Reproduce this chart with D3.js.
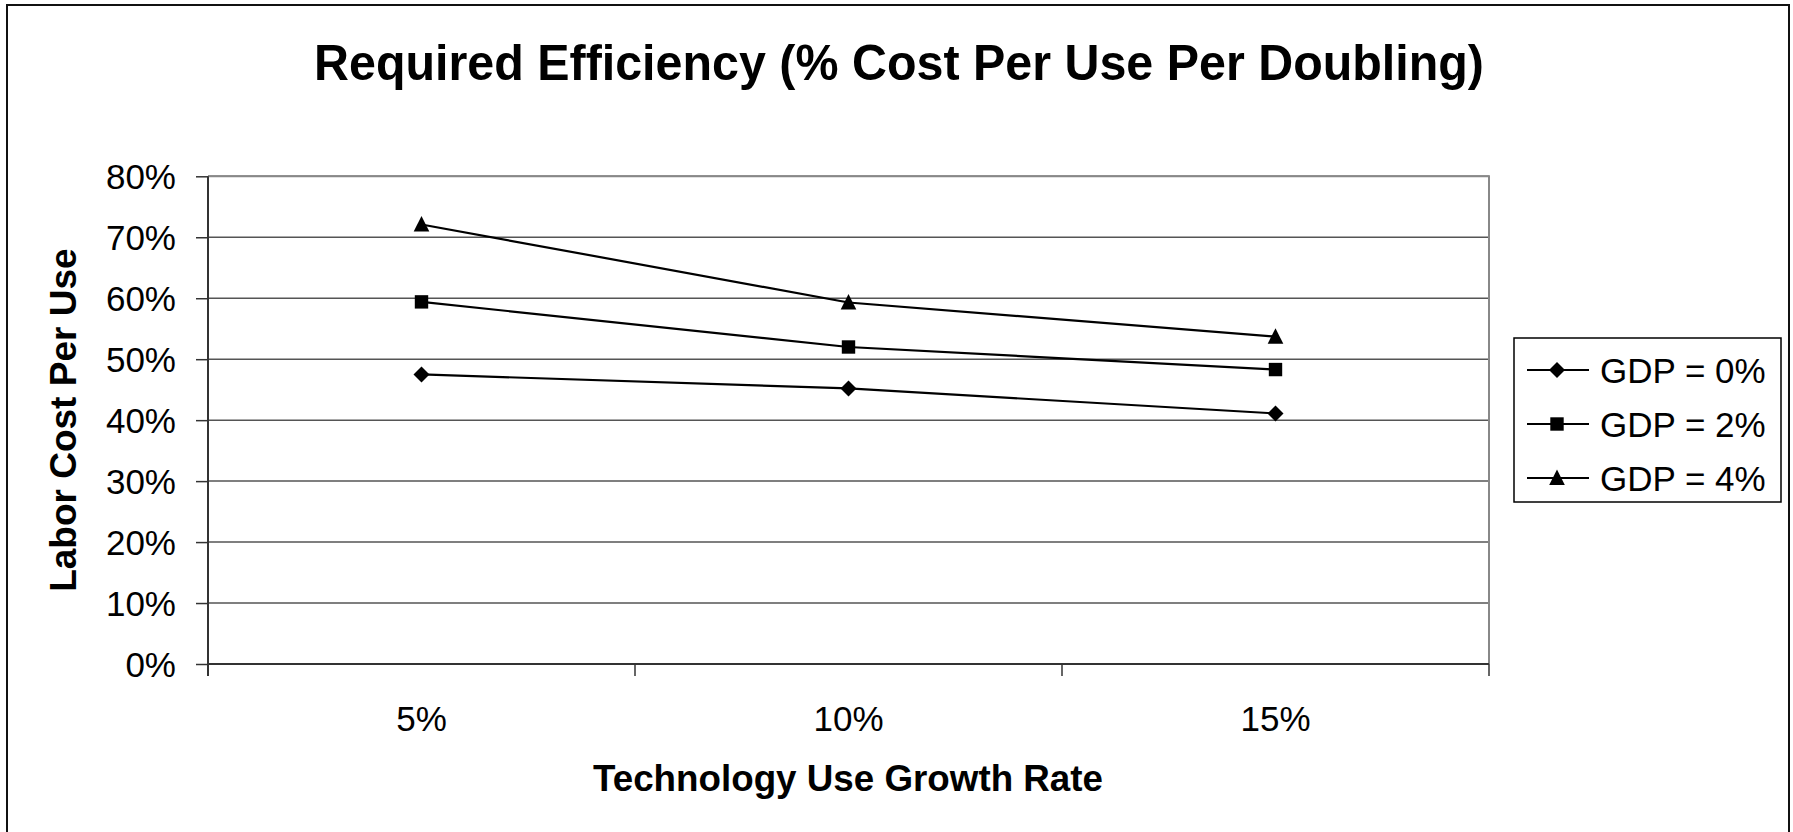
<!DOCTYPE html>
<html>
<head>
<meta charset="utf-8">
<script src="https://cdn.jsdelivr.net/npm/d3@7"></script>
<style>
  html, body { margin: 0; padding: 0; background: #fff; }
  svg { display: block; font-family: "Liberation Sans", Arial, sans-serif; }
</style>
</head>
<body>
<svg id="chart" width="1793" height="832"></svg>
<script>
// Growth-rate categories on the x axis
const categories = ["5%", "10%", "15%"];
// Series: labor cost per use required, one series per GDP growth assumption
const seriesNames = ["GDP = 0%", "GDP = 2%", "GDP = 4%"];
const gdp0 = [0.475, 0.452, 0.411];
const gdp2 = [0.594, 0.520, 0.483];
const gdp4 = [0.721, 0.593, 0.537];
const seriesMarkers = ["diamond", "square", "triangle"];
const yTicks = [0, 0.1, 0.2, 0.3, 0.4, 0.5, 0.6, 0.7, 0.8];

const titleText = "Required Efficiency (% Cost Per Use Per Doubling)";
const xTitle = "Technology Use Growth Rate";
const yTitle = "Labor Cost Per Use";

const series = [gdp0, gdp2, gdp4].map((vals, i) => ({
  name: seriesNames[i], marker: seriesMarkers[i], values: vals
}));

const svg = d3.select("#chart");
const plot = { left: 208, right: 1489, top: 176.3, bottom: 664 };

// Outer chart frame (bottom edge falls below the page)
svg.append("rect").attr("x", 7).attr("y", 5).attr("width", 1782).attr("height", 860)
  .attr("fill", "#fff").attr("stroke", "#111").attr("stroke-width", 2);

const x = d3.scaleBand().domain(categories).range([plot.left, plot.right]).padding(0);
const y = d3.scaleLinear().domain([0, 0.8]).range([plot.bottom, plot.top]);

// Horizontal gridlines
svg.append("g").selectAll("line").data(yTicks.slice(1)).join("line")
  .attr("x1", plot.left).attr("x2", plot.right)
  .attr("y1", d => y(d)).attr("y2", d => y(d))
  .attr("stroke", "#555").attr("stroke-width", 1.5);

// Plot frame: top and right edges
svg.append("path")
  .attr("d", `M${plot.left},${y(0.8)}H${plot.right}V${plot.bottom}`)
  .attr("fill", "none").attr("stroke", "#888").attr("stroke-width", 2);

// Y axis
const yAxis = svg.append("g").attr("transform", `translate(${plot.left},0)`)
  .call(d3.axisLeft(y).tickValues(yTicks).tickFormat(d3.format(".0%")).tickSize(12).tickPadding(20));
yAxis.select(".domain").attr("stroke", "#333").attr("stroke-width", 2)
  .attr("d", `M0,${y(0.8)}V${plot.bottom + 12}`);
yAxis.selectAll(".tick line").attr("stroke", "#333").attr("stroke-width", 1.5);
yAxis.selectAll(".tick text").attr("font-size", 35).attr("fill", "#000")
  .attr("font-family", "Liberation Sans, Arial, sans-serif").attr("dy", "0.36em");

// X axis: labels centred in each category, tick marks on category boundaries
const xAxis = svg.append("g").attr("transform", `translate(0,${plot.bottom})`)
  .call(d3.axisBottom(x).tickSize(0).tickPadding(42));
xAxis.select(".domain").attr("stroke", "#333").attr("stroke-width", 2)
  .attr("d", `M${plot.left},0H${plot.right}`);
xAxis.selectAll(".tick text").attr("font-size", 35).attr("fill", "#000")
  .attr("font-family", "Liberation Sans, Arial, sans-serif");
const edges = categories.map(c => x(c)).concat([x.range()[1]]);
xAxis.append("g").selectAll("line").data(edges).join("line")
  .attr("x1", d => d).attr("x2", d => d).attr("y1", 0).attr("y2", 12)
  .attr("stroke", "#333").attr("stroke-width", 1.5);

// Marker shapes
function markerPath(type, cx, cy) {
  if (type === "diamond") {
    const r = 8;
    return `M${cx},${cy - r}L${cx + r},${cy}L${cx},${cy + r}L${cx - r},${cy}Z`;
  }
  if (type === "square") {
    const h = 6.7;
    return `M${cx - h},${cy - h}H${cx + h}V${cy + h}H${cx - h}Z`;
  }
  return `M${cx},${cy - 8.5}L${cx + 7.8},${cy + 7}L${cx - 7.8},${cy + 7}Z`;
}

const cx = c => x(c) + x.bandwidth() / 2;
const line = d3.line().x((d, i) => cx(categories[i])).y(d => y(d));

const sg = svg.append("g").selectAll("g").data(series).join("g");
sg.append("path").attr("d", d => line(d.values))
  .attr("fill", "none").attr("stroke", "#000").attr("stroke-width", 2.2);
sg.each(function (s) {
  d3.select(this).selectAll("path.m").data(s.values).join("path").attr("class", "m")
    .attr("d", (v, i) => markerPath(s.marker, cx(categories[i]), y(v)))
    .attr("fill", "#000");
});

// Titles
svg.append("text").attr("x", 899).attr("y", 80).attr("text-anchor", "middle")
  .attr("font-size", 50).attr("font-weight", "bold")
  .attr("textLength", 1170).attr("lengthAdjust", "spacingAndGlyphs").text(titleText);
svg.append("text").attr("x", 848).attr("y", 791).attr("text-anchor", "middle")
  .attr("font-size", 37).attr("font-weight", "bold")
  .attr("textLength", 510).attr("lengthAdjust", "spacingAndGlyphs").text(xTitle);
svg.append("text").attr("transform", `translate(76,${(plot.top + plot.bottom) / 2}) rotate(-90)`)
  .attr("text-anchor", "middle").attr("font-size", 37).attr("font-weight", "bold").text(yTitle);

// Legend
const lg = svg.append("g");
lg.append("rect").attr("x", 1514).attr("y", 338).attr("width", 267).attr("height", 164)
  .attr("fill", "#fff").attr("stroke", "#000").attr("stroke-width", 1.5);
const rowY = [370, 424, 478];
const li = lg.selectAll("g.item").data(series).join("g").attr("class", "item")
  .attr("transform", (d, i) => `translate(0,${rowY[i]})`);
li.append("line").attr("x1", 1527).attr("x2", 1589).attr("y1", 0).attr("y2", 0)
  .attr("stroke", "#000").attr("stroke-width", 2);
li.append("path").attr("d", d => markerPath(d.marker, 1557, 0)).attr("fill", "#000");
li.append("text").attr("x", 1600).attr("y", 0).attr("dy", "0.36em")
  .attr("font-size", 35).text(d => d.name);
</script>
</body>
</html>
